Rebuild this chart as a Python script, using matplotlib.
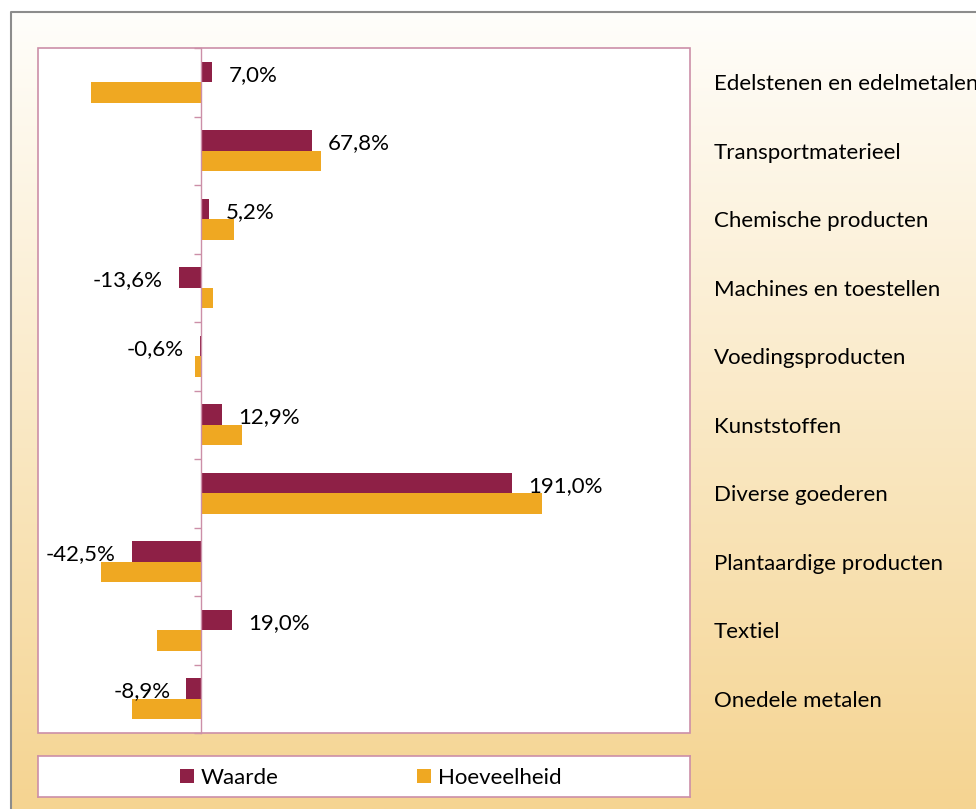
import numpy as np
import matplotlib
matplotlib.use("Agg")
import matplotlib.pyplot as plt
from matplotlib.patches import Rectangle
from matplotlib.colors import to_rgb

plt.rcParams['font.family'] = ['Lato', 'DejaVu Sans']

categories = ["Edelstenen en edelmetalen", "Transportmaterieel", "Chemische producten",
              "Machines en toestellen", "Voedingsproducten", "Kunststoffen",
              "Diverse goederen", "Plantaardige producten", "Textiel", "Onedele metalen"]
waarde = [7.0, 67.8, 5.2, -13.6, -0.6, 12.9, 191.0, -42.5, 19.0, -8.9]
hoeveelheid = [-67.4, 73.7, 20.0, 7.5, -3.7, 24.9, 209.4, -61.4, -27.1, -42.3]
series_names = ["Waarde", "Hoeveelheid"]

W, H, DPI = 976, 809, 100
fig = plt.figure(figsize=(W / DPI, H / DPI), dpi=DPI)
fig.patch.set_facecolor("white")

FS = 16

def fx(px):
    return px / W

def fy(py):
    return 1 - py / H

# background gradient
bg = fig.add_axes([0, 0, 1, 1], zorder=-10)
bg.set_axis_off()
top = np.array(to_rgb("#fffefb"))
bot = np.array(to_rgb("#f5d491"))
t = np.linspace(0, 1, 400)[:, None]
grad = top * (1 - t) + bot * t
img = np.repeat(grad[:, None, :], 2, axis=1)
bg.imshow(img, aspect="auto", extent=[fx(10), 1.05, 0, fy(11)], origin="upper")
bg.set_xlim(0, 1)
bg.set_ylim(0, 1)
bg.plot([fx(10.5), fx(10.5), 1.01], [0, fy(11.5), fy(11.5)], color="#8c8c8c", lw=1.5)

pink = "#cc8fa8"
maroon = "#8e2046"
orange = "#efa822"

# main plot
ax = fig.add_axes([fx(38), fy(733), fx(690) - fx(38), fy(48) - fy(733)])
ax.set_facecolor("white")
y = np.arange(len(categories))
h = 0.3
b1 = ax.barh(y - h / 2, waarde, height=h, color=maroon, label=series_names[0], zorder=2)
b2 = ax.barh(y + h / 2, hoeveelheid, height=h, color=orange, label=series_names[1], zorder=2)
ax.set_xlim(-100, 300)
ax.set_ylim(len(categories) - 0.5, -0.5)

labels = [f"{v:.1f}%".replace(".", ",") for v in waarde]
texts = ax.bar_label(b1, labels=labels, padding=11.5, fontsize=FS, color="black")
for tx in texts:
    xo, yo = tx.xyann
    tx.xyann = (xo, yo - 2.2)

for s in ["top", "right", "bottom"]:
    ax.spines[s].set_visible(False)
ax.spines["left"].set_position(("data", 0))
ax.spines["left"].set_color(pink)
ax.spines["left"].set_linewidth(1.0)
ax.spines["left"].set_zorder(3)
ax.add_patch(Rectangle((0, 0), 1, 1, transform=ax.transAxes, fill=False,
                       edgecolor=pink, lw=1.2, clip_on=False, zorder=4))

ax.set_xticks([])
ax.set_yticks(y)
ax.set_yticklabels(categories)
ax.set_yticks(np.arange(len(categories) + 1) - 0.5, minor=True)
ax.tick_params(axis="y", which="major", left=False, right=False, labelleft=False,
               labelright=True, pad=17.3 - 3.6, labelsize=FS)
ax.tick_params(axis="y", which="minor", left=True, right=False, direction="out",
               length=5.2, color=pink, width=1.0)

# legend
lax = fig.add_axes([fx(38), fy(797), fx(690) - fx(38), fy(756) - fy(797)])
lax.set_xticks([])
lax.set_yticks([])
lax.set_facecolor("white")
for s in lax.spines.values():
    s.set_color(pink)
    s.set_linewidth(1.2)
lax.legend(handles=[b1, b2], loc="center", ncol=2, frameon=False, fontsize=FS,
           handlelength=0.63, handleheight=0.63, handletextpad=0.32, columnspacing=6.2,
           borderpad=0, bbox_to_anchor=(0.51, 0.47))

fig.savefig("out.png", dpi=DPI)
